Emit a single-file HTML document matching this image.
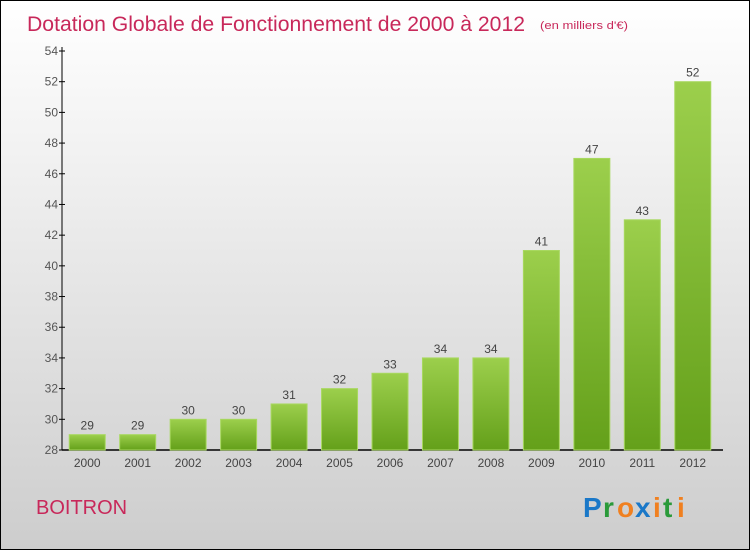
<!DOCTYPE html>
<html><head><meta charset="utf-8"><style>
body{margin:0}
#c{position:relative;width:748px;height:548px;border:1px solid #000;background:linear-gradient(#fff,#f3f3f3 25%,#cdcdcd);font-family:"Liberation Sans",sans-serif;overflow:hidden}
</style></head><body>
<div id="c">
<svg width="748" height="548">
<defs><linearGradient id="g" x1="0" y1="0" x2="0" y2="1"><stop offset="0" stop-color="#9ccf4c"/><stop offset="1" stop-color="#64a01a"/></linearGradient></defs>
<text x="26" y="30" font-size="21" fill="#c8285a" textLength="498" lengthAdjust="spacingAndGlyphs">Dotation Globale de Fonctionnement de 2000 à 2012</text>
<text x="539" y="28" font-size="11" fill="#c8285a" textLength="88" lengthAdjust="spacingAndGlyphs">(en milliers d'€)</text>
<g id="ax"></g><g id="bars"></g>
<text x="35" y="513" font-size="20" fill="#c8285a">BOITRON</text>
<g font-size="28" font-weight="bold"><text x="582" y="516" fill="#1a78c8">P</text><text x="602" y="516" fill="#2a9a3a">r</text><text x="616" y="516" fill="#f08020">o</text><text x="634" y="516" fill="#1a78c8">x</text><text x="652" y="516" fill="#f08020">i</text><text x="662" y="516" fill="#2a9a3a">t</text><text x="676" y="516" fill="#f08020">i</text></g>
</svg></div>
<script>
const years=["2000","2001","2002","2003","2004","2005","2006","2007","2008","2009","2010","2011","2012"];
const values=[29,29,30,30,31,32,33,34,34,41,47,43,52];
const yTicks=[28,30,32,34,36,38,40,42,44,46,48,50,52,54];
const NS="http://www.w3.org/2000/svg";
const x0=61,x1=717,yB=449,yT=50,vMin=28,vMax=54;
const y=v=>yB-(v-vMin)/(vMax-vMin)*(yB-yT);
const step=(x1-x0)/years.length;
const xc=i=>x0+step*(i+0.5);
function mk(t,a,p){const e=document.createElementNS(NS,t);for(const k in a)e.setAttribute(k,a[k]);p.appendChild(e);return e;}
const ax=document.getElementById('ax'),bars=document.getElementById('bars');
let l=mk('line',{x1:x0,y1:yT-4,x2:x0,y2:yB,stroke:'#000'},ax);


l=mk('line',{x1:x0,y1:yB,x2:722,y2:yB,stroke:'#000','stroke-width':1.5},ax);


yTicks.forEach(v=>{
 mk('line',{x1:x0-3,y1:y(v),x2:x0+3,y2:y(v),stroke:'#000'},ax);
 const t=mk('text',{x:x0-4,y:y(v)+4,'font-size':12,fill:'#555','text-anchor':'end'},ax);t.textContent=v;
 
 
});
years.forEach((yr,i)=>{
 const cx=xc(i),w=36;
 const r=mk('rect',{x:cx-w/2,y:y(values[i]),width:w,height:yB-y(values[i]),fill:'url(#g)',stroke:'#a8d860','stroke-width':1},bars);
 
 
 const t=mk('text',{x:cx,y:y(values[i])-5,'font-size':12,fill:'#444','text-anchor':'middle'},bars);t.textContent=values[i];
 
 
 const xl=mk('text',{x:cx,y:yB+17,'font-size':12,fill:'#444','text-anchor':'middle'},ax);xl.textContent=yr;
 
 
});
</script>
</body></html>
